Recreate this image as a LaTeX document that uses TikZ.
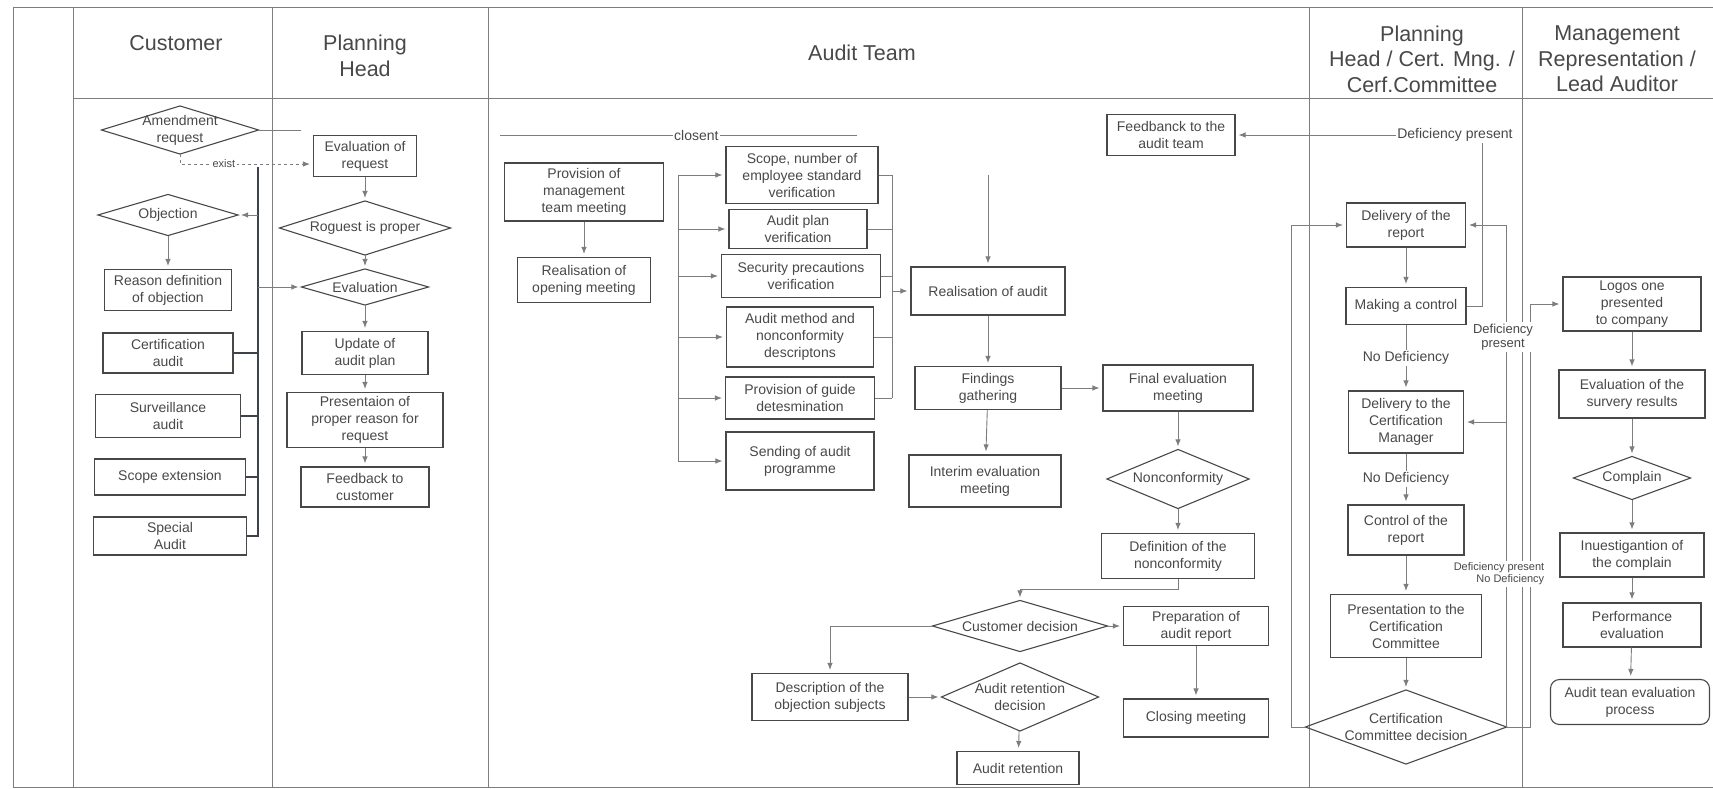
\documentclass[tikz,border=0pt]{standalone}
\usepackage{fontspec}
\setmainfont{Liberation Sans}
\usetikzlibrary{arrows.meta}

\definecolor{inkgray}{RGB}{72,72,72}
\definecolor{rulegray}{RGB}{125,125,125}
\definecolor{busgray}{RGB}{62,66,76}

\tikzset{
  box/.style={draw=inkgray, line width=1.1pt, text=inkgray, align=center, inner sep=2pt,
    font=\fontsize{14}{17}\selectfont},
  wh/.style 2 args={minimum width=#1pt, minimum height=#2pt},
  decision/.style={box, draw=none, append after command={\pgfextra{\draw[inkgray, line width=1.1pt]
    (\tikzlastnode.north) -- (\tikzlastnode.east) -- (\tikzlastnode.south) -- (\tikzlastnode.west) -- cycle;}}},
  head/.style={text=inkgray, align=center, font=\fontsize{21.5}{25.5}\selectfont},
  lane/.style={draw=rulegray, line width=1pt},
  line/.style={draw=rulegray, line width=0.9pt},
  bus/.style={draw=busgray, line width=1.3pt},
  flow/.style={line, shorten >=3pt, -{Latex[length=7pt,width=5.5pt]}},
  lbl/.style={text=inkgray, fill=white, inner sep=1.5pt, font=\fontsize{14}{15}\selectfont},
  lblsmall/.style={lbl, font=\fontsize{11}{12}\selectfont}
}

\begin{document}
\begin{tikzpicture}[x=1pt, y=-1pt]
        \useasboundingbox (0,0) rectangle (1713,789);
        % ---lanes
        \draw[lane] (13,8) -- (1713,8);
        \draw[lane] (13,787) -- (1713,787);
        \draw[lane] (13,8) -- (13,787);
        \draw[lane] (73,8) -- (73,787);
        \draw[lane] (272,8) -- (272,787);
        \draw[lane] (488,8) -- (488,787);
        \draw[lane] (1309,8) -- (1309,787);
        \draw[lane] (1522,8) -- (1522,787);
        \draw[lane] (73,99) -- (1713,99);
        
        \node[head] (hcust) at (176,43) {Customer};
        \node[head] (hplan) at (365,56) {Planning\\Head};
        \node[head] (haudit) at (862,53) {Audit Team};
        \node[head] (hcert) at (1422,59) {Planning\\Head / Cert. Mng. /\\Cerf.Committee};
        \node[head] (hmgmt) at (1617,59) {Management\\Representation /\\Lead Auditor};
        
        % ---customer
        \node[decision, wh={156}{47}] (amend) at (180,130) {Amendment\\request};
        \node[decision, wh={139}{40}] (objection) at (168,215) {Objection};
        \node[box, wh={127}{41}] (reason) at (168,290) {Reason definition\\of objection};
        \node[box, wh={130}{40}] (certaudit) at (168,353) {Certification\\audit};
        \node[box, wh={145}{43}] (surv) at (168,416) {Surveillance\\audit};
        \node[box, wh={151}{36}] (scopeext) at (170,477) {Scope extension};
        \node[box, wh={153}{38}] (special) at (170,536) {Special\\Audit};
        
        % ---planning head
        \node[box, wh={103}{41}] (evalreq) at (365,156) {Evaluation of\\request};
        \node[decision, wh={170}{53}] (proper) at (365,228) {Roguest is proper};
        \node[decision, wh={126}{35}] (evaldec) at (365,287) {Evaluation};
        \node[box, wh={126}{43}] (update) at (365,353) {Update of\\audit plan};
        \node[box, wh={156}{55}] (reasonpres) at (365,420) {Presentaion of\\proper reason for\\request};
        \node[box, wh={128}{40}] (custfb) at (365,487) {Feedback to\\customer};
        
        % ---audit team
        \node[box, wh={159}{58}] (mgmtmeet) at (584,192) {Provision of\\management\\team meeting};
        \node[box, wh={133}{45}] (opening) at (584,280) {Realisation of\\opening meeting};
        \node[box, wh={152}{57}] (scopever) at (802,175) {Scope, number of\\employee standard\\verification};
        \node[box, wh={138}{39}] (planver) at (798,229) {Audit plan\\verification};
        \node[box, wh={159}{43}] (secver) at (801,276) {Security precautions\\verification};
        \node[box, wh={147}{60}] (methoddesc) at (800,337) {Audit method and\\nonconformity\\descriptons};
        \node[box, wh={149}{42}] (guidedet) at (800,398) {Provision of guide\\detesmination};
        \node[box, wh={148}{58}] (sendprog) at (800,461) {Sending of audit\\programme};
        \node[box, wh={154}{48}] (realaudit) at (988,291) {Realisation of audit};
        \node[box, wh={146}{43}] (findings) at (988,388) {Findings\\gathering};
        \node[box, wh={152}{52}] (interim) at (985,481) {Interim evaluation\\meeting};
        \node[box, wh={150}{46}] (finaleval) at (1178,388) {Final evaluation\\meeting};
        \node[decision, wh={141}{58}] (noncon) at (1178,479) {Nonconformity};
        \node[box, wh={153}{45}] (ncdef) at (1178,556) {Definition of the\\nonconformity};
        \node[decision, wh={174}{50}] (custdec) at (1020,626) {Customer decision};
        \node[box, wh={145}{39}] (auditrep) at (1196,626) {Preparation of\\audit report};
        \node[box, wh={145}{38}] (closing) at (1196,718) {Closing meeting};
        \node[box, wh={156}{47}] (objsubj) at (830,697) {Description of the\\objection subjects};
        \node[decision, wh={156}{67}] (retdec) at (1020,697) {Audit retention\\decision};
        \node[box, wh={122}{33}] (retention) at (1018,768) {Audit retention};
        \node[box, wh={128}{41}] (teamfb) at (1171,135) {Feedbanck to the\\audit team};
        
        % ---planning head / cert. committee
        \node[box, wh={119}{44}] (delrep) at (1406,225) {Delivery of the\\report};
        \node[box, wh={120}{37}] (makectrl) at (1406,306) {Making a control};
        \node[box, wh={115}{62}] (delcm) at (1406,422) {Delivery to the\\Certification\\Manager};
        \node[box, wh={116}{50}] (ctrlrep) at (1406,530) {Control of the\\report};
        \node[box, wh={151}{63}] (presentcc) at (1406,626) {Presentation to the\\Certification\\Committee};
        \node[decision, wh={200}{73}] (ccdec) at (1406,727) {Certification\\Committee decision};
        
        % ---management / lead auditor
        \node[box, wh={138}{54}] (logos) at (1632,304) {Logos one\\presented\\to company};
        \node[box, wh={146}{48}] (survey) at (1632,394) {Evaluation of the\\survery results};
        \node[decision, wh={116}{42}] (complain) at (1632,478) {Complain};
        \node[box, wh={144}{44}] (investig) at (1632,555) {Inuestigantion of\\the complain};
        \node[box, wh={138}{44}] (perfeval) at (1632,625) {Performance\\evaluation};
        \node[box, rounded corners=9pt, wh={159}{45}] (teamproc) at (1630,702) {Audit tean evaluation\\process};
        
        % ---connectors, customer and planning head
        \draw[line] (amend.east) -- ++(42,0) coordinate (amendout);
        \draw[flow, dashed] (amend.south) -- ++(0,10) coordinate (existpt) -- (existpt -| evalreq.west)
            node[lblsmall, pos=0.33] {exist};
        \coordinate (cbustop) at (258,167);
        \draw[bus] (cbustop) -- (cbustop |- special.east) -- (special.east);
        \draw[bus] (certaudit.east) -- (certaudit.east -| cbustop);
        \draw[bus] (surv.east) -- (surv.east -| cbustop);
        \draw[bus] (scopeext.east) -- (scopeext.east -| cbustop);
        \draw[flow] (cbustop |- objection.east) -- (objection.east);
        \draw[flow] (cbustop |- evaldec.west) -- (evaldec.west);
        \draw[flow] (objection) -- (reason);
        
        \draw[flow] (evalreq) -- (proper);
        \draw[flow] (proper) -- (evaldec);
        \draw[flow] (evaldec) -- (update);
        \draw[flow] (update) -- (reasonpres);
        \draw[flow] (reasonpres) -- (custfb);
        
        % ---connectors, audit team
        \coordinate (closeL) at (500,135);
        \coordinate (closeR) at (857,135);
        \draw[line] (closeL) -- (closeR) node[lbl, pos=0.55] {closent};
        \draw[flow] (mgmtmeet) -- (opening);
        
        \coordinate (lbustop) at (678,175);
        \draw[line] (lbustop) -- (lbustop |- sendprog.west);
        \draw[flow] (lbustop |- scopever.west) -- (scopever.west);
        \draw[flow] (lbustop |- planver.west) -- (planver.west);
        \draw[flow] (lbustop |- secver.west) -- (secver.west);
        \draw[flow] (lbustop |- methoddesc.west) -- (methoddesc.west);
        \draw[flow] (lbustop |- guidedet.west) -- (guidedet.west);
        \draw[flow] (lbustop |- sendprog.west) -- (sendprog.west);
        
        \coordinate (rbustop) at (892,175);
        \draw[line] (rbustop) -- (rbustop |- guidedet.east);
        \draw[line] (scopever.east) -- (scopever.east -| rbustop);
        \draw[line] (planver.east) -- (planver.east -| rbustop);
        \draw[line] (secver.east) -- (secver.east -| rbustop);
        \draw[line] (methoddesc.east) -- (methoddesc.east -| rbustop);
        \draw[line] (guidedet.east) -- (guidedet.east -| rbustop);
        \draw[flow] (rbustop |- realaudit.west) -- (realaudit.west);
        
        \coordinate (auditin) at (988,175);
        \draw[flow] (auditin) -- (realaudit);
        \draw[flow] (realaudit) -- (findings);
        \draw[flow] (findings) -- (finaleval);
        \draw[flow] (findings) -- (interim);
        \draw[flow] (finaleval) -- (noncon);
        \draw[flow] (noncon) -- (ncdef);
        \draw[flow] (ncdef.south) -- ++(0,10) -| (custdec.north);
        \draw[flow] (custdec) -- (auditrep);
        \draw[flow] (auditrep) -- (closing);
        \draw[flow] (custdec.west) -| (objsubj.north);
        \draw[flow] (objsubj) -- (retdec);
        \draw[flow] (retdec) -- (retention);
        
        % ---connectors, planning head / cert. committee
        \draw[flow] (delrep) -- (makectrl);
        \draw[flow] (makectrl) -- (delcm) node[lbl, midway] {No Deficiency};
        \draw[flow] (delcm) -- (ctrlrep) node[lbl, midway] {No Deficiency};
        \draw[flow] (ctrlrep) -- (presentcc);
        \draw[flow] (presentcc) -- (ccdec);
        
        \coordinate (deftop) at (1482,135);
        \draw[flow] (makectrl.east) -| (deftop) -- (teamfb.east)
            node[lbl, pos=0.11] {Deficiency present};
        \draw[flow] (ccdec.east) -- (ccdec.east |- delrep.east) -- (delrep.east);
        \draw[flow] (ccdec.east |- delcm.east) -- (delcm.east);
        \draw[flow] (ccdec.east) -- ++(24,0) |- (logos.west);
        \draw[flow] (ccdec.west) -- ++(-14,0) |- (delrep.west);
        \node[lbl, align=center, font=\fontsize{13}{14}\selectfont] (defpres) at (1503,337) {Deficiency\\present};
        \node[lblsmall, align=right] (defnodef) at (1499,574) {Deficiency present\\No Deficiency};
        
        % ---connectors, management / lead auditor
        \draw[flow] (logos) -- (survey);
        \draw[flow] (survey) -- (complain);
        \draw[flow] (complain) -- (investig);
        \draw[flow] (investig) -- (perfeval);
        \draw[flow] (perfeval) -- (teamproc);
        
\end{tikzpicture}
\end{document}
